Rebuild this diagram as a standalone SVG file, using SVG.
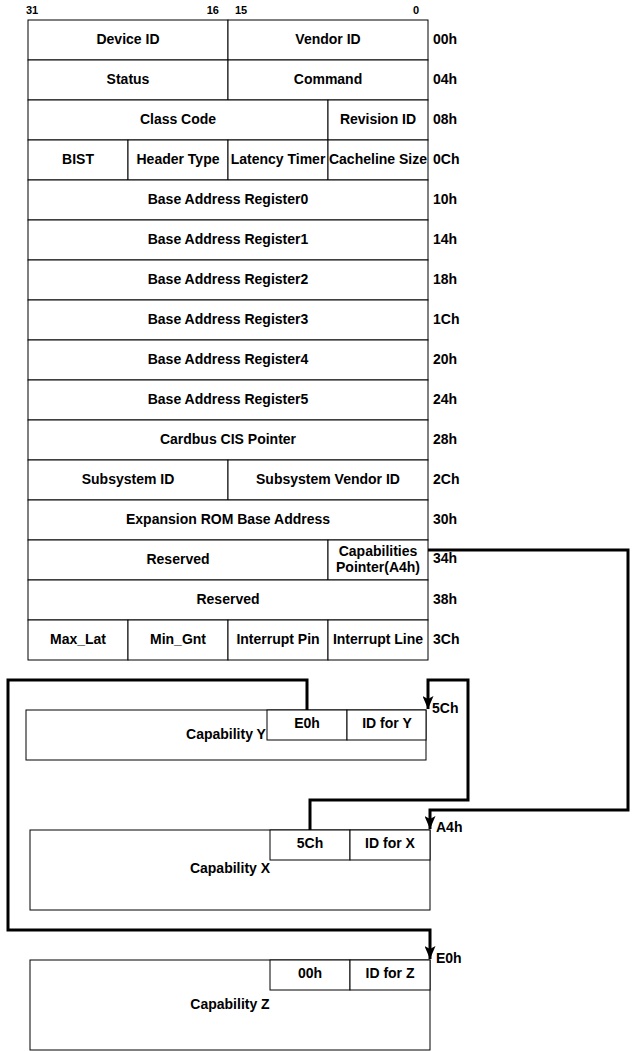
<svg xmlns="http://www.w3.org/2000/svg" width="638" height="1051" viewBox="0 0 638 1051">
<defs>
<style>
.c{fill:#fff;stroke:#000;stroke-width:1}
.t{font-family:"Liberation Sans",Arial,sans-serif;font-weight:bold;font-size:14px;fill:#000;text-anchor:middle;dominant-baseline:central;transform:translateY(-1px)}
.o{font-family:"Liberation Sans",Arial,sans-serif;font-weight:bold;font-size:14px;fill:#000;dominant-baseline:central;transform:translateY(-1px)}
.b{font-family:"Liberation Sans",Arial,sans-serif;font-weight:bold;font-size:11px;fill:#000}
.w{fill:none;stroke:#000;stroke-width:3}
</style>
<marker id="ar" markerUnits="userSpaceOnUse" markerWidth="13" markerHeight="11" viewBox="0 0 13 11" refX="13" refY="5.5" orient="auto">
<path d="M0,0 L13,5.5 L0,11 L3,5.5 Z" fill="#000"/>
</marker>
</defs>
<rect width="638" height="1051" fill="#fff"/>
<g id="bits">
<text class="b" x="26" y="14">31</text>
<text class="b" x="219" y="14" text-anchor="end">16</text>
<text class="b" x="235" y="14">15</text>
<text class="b" x="413" y="14">0</text>
</g>
<g id="r00"><rect class="c" x="28" y="20" width="200" height="40"/><rect class="c" x="228" y="20" width="200" height="40"/><text class="t" x="128" y="40">Device ID</text><text class="t" x="328" y="40">Vendor ID</text><text class="o" x="433" y="40">00h</text></g>
<g id="r04"><rect class="c" x="28" y="60" width="200" height="40"/><rect class="c" x="228" y="60" width="200" height="40"/><text class="t" x="128" y="80">Status</text><text class="t" x="328" y="80">Command</text><text class="o" x="433" y="80">04h</text></g>
<g id="r08"><rect class="c" x="28" y="100" width="300" height="40"/><rect class="c" x="328" y="100" width="100" height="40"/><text class="t" x="178" y="120">Class Code</text><text class="t" x="378" y="120">Revision ID</text><text class="o" x="433" y="120">08h</text></g>
<g id="r0C"><rect class="c" x="28" y="140" width="100" height="40"/><rect class="c" x="128" y="140" width="100" height="40"/><rect class="c" x="228" y="140" width="100" height="40"/><rect class="c" x="328" y="140" width="100" height="40"/><text class="t" x="78" y="160">BIST</text><text class="t" x="178" y="160">Header Type</text><text class="t" x="278" y="160">Latency Timer</text><text class="t" x="378" y="160">Cacheline Size</text><text class="o" x="433" y="160">0Ch</text></g>
<g id="r10"><rect class="c" x="28" y="180" width="400" height="40"/><text class="t" x="228" y="200">Base Address Register0</text><text class="o" x="433" y="200">10h</text></g>
<g id="r14"><rect class="c" x="28" y="220" width="400" height="40"/><text class="t" x="228" y="240">Base Address Register1</text><text class="o" x="433" y="240">14h</text></g>
<g id="r18"><rect class="c" x="28" y="260" width="400" height="40"/><text class="t" x="228" y="280">Base Address Register2</text><text class="o" x="433" y="280">18h</text></g>
<g id="r1C"><rect class="c" x="28" y="300" width="400" height="40"/><text class="t" x="228" y="320">Base Address Register3</text><text class="o" x="433" y="320">1Ch</text></g>
<g id="r20"><rect class="c" x="28" y="340" width="400" height="40"/><text class="t" x="228" y="360">Base Address Register4</text><text class="o" x="433" y="360">20h</text></g>
<g id="r24"><rect class="c" x="28" y="380" width="400" height="40"/><text class="t" x="228" y="400">Base Address Register5</text><text class="o" x="433" y="400">24h</text></g>
<g id="r28"><rect class="c" x="28" y="420" width="400" height="40"/><text class="t" x="228" y="440">Cardbus CIS Pointer</text><text class="o" x="433" y="440">28h</text></g>
<g id="r2C"><rect class="c" x="28" y="460" width="200" height="40"/><rect class="c" x="228" y="460" width="200" height="40"/><text class="t" x="128" y="480">Subsystem ID</text><text class="t" x="328" y="480">Subsystem Vendor ID</text><text class="o" x="433" y="480">2Ch</text></g>
<g id="r30"><rect class="c" x="28" y="500" width="400" height="40"/><text class="t" x="228" y="520">Expansion ROM Base Address</text><text class="o" x="433" y="520">30h</text></g>
<g id="r34"><rect class="c" x="28" y="540" width="300" height="40"/><rect class="c" x="328" y="540" width="100" height="40"/><text class="t" x="178" y="560">Reserved</text><text class="t" x="378" y="552">Capabilities</text><text class="t" x="378" y="568">Pointer(A4h)</text><text class="o" x="433" y="559">34h</text></g>
<g id="r38"><rect class="c" x="28" y="580" width="400" height="40"/><text class="t" x="228" y="600">Reserved</text><text class="o" x="433" y="600">38h</text></g>
<g id="r3C"><rect class="c" x="28" y="620" width="100" height="40"/><rect class="c" x="128" y="620" width="100" height="40"/><rect class="c" x="228" y="620" width="100" height="40"/><rect class="c" x="328" y="620" width="100" height="40"/><text class="t" x="78" y="640">Max_Lat</text><text class="t" x="178" y="640">Min_Gnt</text><text class="t" x="278" y="640">Interrupt Pin</text><text class="t" x="378" y="640">Interrupt Line</text><text class="o" x="433" y="640">3Ch</text></g>
<g id="capY"><rect class="c" x="26" y="710" width="400" height="50"/><text class="t" x="226" y="735">Capability Y</text><rect class="c" x="267" y="710" width="80" height="30"/><rect class="c" x="347" y="710" width="79" height="30"/><text class="t" x="307" y="724">E0h</text><text class="t" x="387" y="724">ID for Y</text></g>
<g id="capX"><rect class="c" x="30" y="830" width="400" height="80"/><text class="t" x="230" y="869">Capability X</text><rect class="c" x="270" y="830" width="80" height="30"/><rect class="c" x="350" y="830" width="80" height="30"/><text class="t" x="310" y="844">5Ch</text><text class="t" x="390" y="844">ID for X</text></g>
<g id="capZ"><rect class="c" x="30" y="960" width="400" height="90"/><text class="t" x="230" y="1005">Capability Z</text><rect class="c" x="270" y="960" width="80" height="30"/><rect class="c" x="350" y="960" width="80" height="30"/><text class="t" x="310" y="974">00h</text><text class="t" x="390" y="974">ID for Z</text></g>
<g id="connectors">
<path class="w" d="M428,550 H628 V810 H430 V829" marker-end="url(#ar)"/>
<path class="w" d="M310,830 V800 H468 V680 H428 V709" marker-end="url(#ar)"/>
<path class="w" d="M307,710 V680 H8 V930 H430 V959" marker-end="url(#ar)"/>
<text class="o" x="436" y="828">A4h</text>
<text class="o" x="432" y="709">5Ch</text>
<text class="o" x="436" y="959">E0h</text>
</g>
</svg>
